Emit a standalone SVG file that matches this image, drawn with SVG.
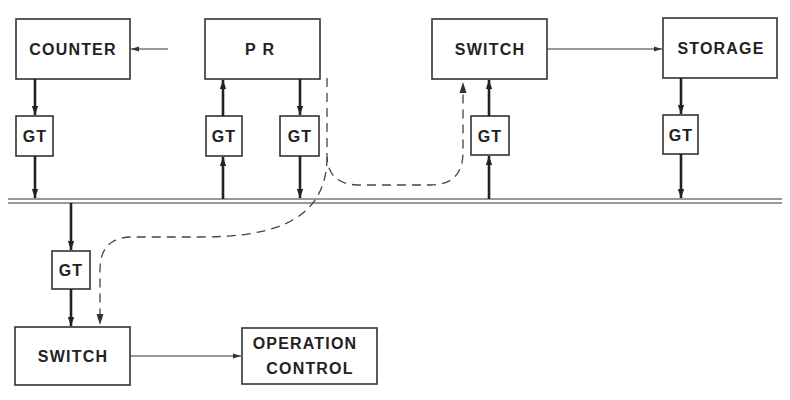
<svg xmlns="http://www.w3.org/2000/svg" width="790" height="400" viewBox="0 0 790 400">
<defs>
<marker id="ah" viewBox="0 0 10 10" refX="10" refY="5" markerWidth="9" markerHeight="9" markerUnits="userSpaceOnUse" orient="auto"><path d="M0,1.5 L10,5 L0,8.5 z" fill="#222"/></marker>
<marker id="ahs" viewBox="0 0 10 10" refX="10" refY="5" markerWidth="8" markerHeight="8" markerUnits="userSpaceOnUse" orient="auto"><path d="M0,2 L10,5 L0,8 z" fill="#333"/></marker>
</defs>
<style>
.box{fill:#fff;stroke:#333;stroke-width:1.6}
text{font-family:"Liberation Sans",Arial,sans-serif;font-weight:bold;font-size:16px;fill:#222;text-anchor:middle;letter-spacing:1.2px}
.thick{stroke:#222;stroke-width:2.6;fill:none;marker-end:url(#ah)}
.thin{stroke:#333;stroke-width:1.1;fill:none;marker-end:url(#ahs)}
.dash{stroke:#444;stroke-width:1.3;fill:none;stroke-dasharray:9 6}
.bus{stroke:#333;stroke-width:1.2;fill:none}
</style>
<rect width="790" height="400" fill="#fff"/>
<g id="bus"><line class="bus" x1="8" y1="199" x2="782" y2="199"/><line class="bus" x1="8" y1="203" x2="782" y2="203"/></g>
<g id="counter"><rect class="box" x="16" y="19" width="114" height="60"/><text x="73" y="55">COUNTER</text></g>
<g id="pr"><rect class="box" x="205" y="19" width="115" height="60"/><text x="263" y="55" style="letter-spacing:7px">PR</text></g>
<g id="switch1"><rect class="box" x="432" y="19" width="115" height="60"/><text x="490" y="55">SWITCH</text></g>
<g id="storage"><rect class="box" x="663" y="18" width="114" height="60"/><text x="721" y="54">STORAGE</text></g>
<g id="gt1"><rect class="box" x="16" y="116" width="37" height="40"/><text x="35" y="142">GT</text></g>
<g id="gt2"><rect class="box" x="206" y="116" width="36" height="40"/><text x="224" y="142">GT</text></g>
<g id="gt3"><rect class="box" x="280" y="116" width="39" height="40"/><text x="300" y="142">GT</text></g>
<g id="gt4"><rect class="box" x="471" y="116" width="38" height="39"/><text x="490" y="142">GT</text></g>
<g id="gt5"><rect class="box" x="663" y="115" width="35" height="39"/><text x="681" y="141">GT</text></g>
<g id="gt6"><rect class="box" x="52" y="251" width="38" height="38"/><text x="71" y="276">GT</text></g>
<g id="switch2"><rect class="box" x="15" y="327" width="115" height="58"/><text x="73" y="362">SWITCH</text></g>
<g id="opcontrol"><rect class="box" x="242" y="328" width="135" height="56"/><text x="305" y="349">OPERATION</text><text x="310" y="374">CONTROL</text></g>
<g id="connectors">
<line class="thin" x1="168" y1="49" x2="131" y2="49"/>
<line class="thin" x1="547" y1="49" x2="662" y2="49"/>
<line class="thin" x1="130" y1="356" x2="241" y2="356"/>
<line class="thick" x1="35" y1="79" x2="35" y2="115"/>
<line class="thick" x1="35" y1="156" x2="35" y2="198"/>
<line class="thick" x1="223" y1="199" x2="223" y2="157"/>
<line class="thick" x1="223" y1="116" x2="223" y2="80"/>
<line class="thick" x1="300" y1="79" x2="300" y2="115"/>
<line class="thick" x1="300" y1="156" x2="300" y2="198"/>
<line class="thick" x1="489" y1="199" x2="489" y2="156"/>
<line class="thick" x1="489" y1="116" x2="489" y2="80"/>
<line class="thick" x1="681" y1="78" x2="681" y2="114"/>
<line class="thick" x1="681" y1="154" x2="681" y2="198"/>
<line class="thick" x1="71" y1="203" x2="71" y2="250"/>
<line class="thick" x1="71" y1="289" x2="71" y2="326"/>
<path class="dash" d="M327,78 L327,155 Q327,185 360,185 L430,185 Q463,185 463,152 L463,88"/>
<path d="M463,82 L459.5,93 L466.5,93 z" fill="#333"/>
<path class="dash" d="M327,157 C327,190 312,212 285,224 C262,234 232,237 200,237 L132,237 Q100,237 100,270 L100,318"/>
<path d="M100,325 L96.5,314 L103.5,314 z" fill="#333"/>
</g>
</svg>
